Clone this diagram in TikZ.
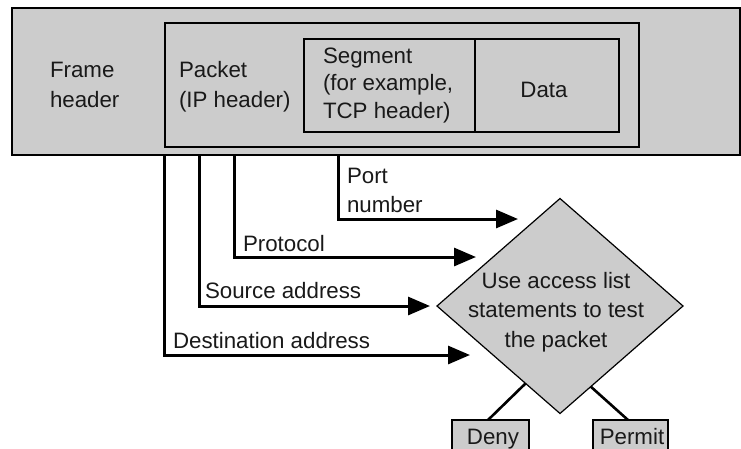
\documentclass[tikz,border=0pt]{standalone}
\usepackage{fontspec}
\setmainfont{Liberation Sans}
\usetikzlibrary{arrows.meta,shapes.geometric,calc}
\definecolor{boxgray}{RGB}{204,204,204}
\begin{document}
\begin{tikzpicture}[x=1pt,y=-1pt,
  box/.style={draw=black, line width=1.3pt, fill=boxgray, inner sep=0pt, outer sep=0pt, anchor=north west},
  txt/.style={font=\fontsize{22.3}{30}\selectfont, inner sep=0pt, outer sep=0pt, align=left, anchor=base west, text=black!90},
  conn/.style={line width=3pt, -{Triangle[length=22pt,width=18pt]}},
  lead/.style={line width=2.6pt},
]
\useasboundingbox (0,0) rectangle (741,448);
\clip (0,0) rectangle (741,448);
% header boxes
\node[box, minimum width=728pt, minimum height=147pt] (frame) at (12,8) {};
\node[box, minimum width=474pt, minimum height=124pt] (packet) at (165,23) {};
\node[box, minimum width=171pt, minimum height=93pt] (seg) at (304,39) {};
\node[box, minimum width=144pt, minimum height=93pt] (data) at (475,39) {};
\node[txt] (frametxt) at (50,107) {Frame\\header};
\node[txt] (pkttxt) at (179,107) {Packet\\(IP header)};
\node[txt, font=\fontsize{22.3}{27.5}\selectfont] (segtxt) at (323,118) {Segment\\(for example,\\TCP header)};
\node[txt, anchor=base] (datatxt) at (544,97) {Data};
% decision
\node[diamond, draw=black, line width=1.2pt, fill=boxgray, minimum width=246pt, minimum height=215pt, inner sep=0pt, outer sep=0pt] (test) at (560,306) {};
\node[txt, align=center, anchor=base, font=\fontsize{22.3}{29.5}\selectfont] (testtxt) at (556,347) {Use access list\\statements to test\\the packet};
% connectors
\coordinate (pS) at (338,155); \coordinate (pT) at (518,219);
\coordinate (rS) at (234,155); \coordinate (rT) at (476,257);
\coordinate (sS) at (199,155); \coordinate (sT) at ([xshift=-7pt]test.west);
\coordinate (dS) at (164,155); \coordinate (dT) at (470,355);
\draw[conn] (pS) |- (pT);
\draw[conn] (rS) |- (rT);
\draw[conn] (sS) |- (sT);
\draw[conn] (dS) |- (dT);
\node[txt, font=\fontsize{22.3}{29}\selectfont] (portlbl) at (347,212) {Port\\number};
\node[txt] (protolbl) at (243,251) {Protocol};
\node[txt] (srclbl) at (205,298) {Source address};
\node[txt] (dstlbl) at (173,348) {Destination address};
% outcomes
\node[box, anchor=north, minimum width=77pt, minimum height=40pt] (deny) at (490.5,420) {};
\node[box, anchor=north, minimum width=75pt, minimum height=40pt] (permit) at (630.5,420) {};
\node[txt, anchor=base] (denytxt) at (493,444) {Deny};
\node[txt, anchor=base] (permittxt) at (632,444) {Permit};
\draw[lead] ($(test.west)!0.72!(test.south)$) -- ([xshift=-2.5pt]deny.north);
\draw[lead] ($(test.east)!0.75!(test.south)$) -- ([xshift=-2.5pt]permit.north);
\end{tikzpicture}
\end{document}
